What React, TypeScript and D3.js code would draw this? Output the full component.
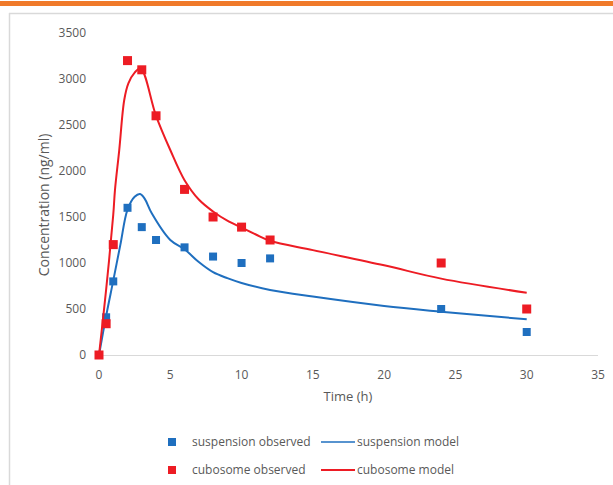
import React from 'react'
import * as d3 from 'd3'

// observed sampling times (h)
const obsTimes = [0, 0.5, 1, 2, 3, 4, 6, 8, 10, 12, 24, 30]
const suspensionObserved = [0, 410, 800, 1600, 1390, 1250, 1170, 1070, 1000, 1050, 500, 250]
const cubosomeObserved = [0, 340, 1200, 3200, 3100, 2600, 1800, 1500, 1390, 1250, 1000, 500]

// model curves
const suspensionModelT = [0, 0.5, 1, 1.5, 2, 2.5, 2.88, 3.2, 3.7, 5, 6, 7, 8, 9, 10, 12, 15, 20, 24, 30]
const suspensionModelC = [0, 424, 808, 1200, 1580, 1720, 1750, 1700, 1540, 1250, 1150, 1010, 900, 835, 783, 707, 635, 533, 471, 388]
const cubosomeModelT = [0, 0.5, 1, 1.12, 1.42, 1.77, 2.06, 2.5, 2.92, 4, 5, 6, 7, 8, 9, 10, 11, 12, 15, 20, 24, 30]
const cubosomeModelC = [0, 710, 1525, 1793, 2228, 2772, 2953, 3070, 3116, 2600, 2228, 1900, 1690, 1560, 1460, 1385, 1310, 1242, 1140, 975, 830, 677]

const xTicks = [0, 5, 10, 15, 20, 25, 30, 35]
const yTicks = [0, 500, 1000, 1500, 2000, 2500, 3000, 3500]

const BLUE = '#1f6fbf'
const RED = '#ed1c24'
const TEXT = '#595959'
const FONT = '"Open Sans", Lato, sans-serif'

export default function App() {
  const x = d3.scaleLinear().domain([0, 35]).range([99, 598])
  const y = d3.scaleLinear().domain([0, 3500]).range([355, 33])

  const line = d3.line<[number, number]>()
    .x(d => x(d[0]))
    .y(d => y(d[1]))
    .curve(d3.curveCatmullRom.alpha(0.5))

  const suspPath = line(suspensionModelT.map((t, i) => [t, suspensionModelC[i]] as [number, number])) || ''
  const cuboPath = line(cubosomeModelT.map((t, i) => [t, cubosomeModelC[i]] as [number, number])) || ''

  const sq = 8

  return (
    <svg width={613} height={485} style={{ position: 'absolute', left: 0, top: 0 }} fontFamily={FONT}>
      <rect x={0} y={0} width={613} height={485} fill="#fff" />
      {/* top banner */}
      <rect x={0} y={1} width={613} height={5} fill="#f07a2a" />
      {/* chart frame */}
      <line x1={9.5} y1={13} x2={9.5} y2={485} stroke="#d9d9d9" strokeWidth={1.5} />
      <line x1={9} y1={13.5} x2={613} y2={13.5} stroke="#d9d9d9" strokeWidth={1.5} />

      {/* x axis */}
      <line x1={x(0)} y1={y(0) + 0.5} x2={x(35)} y2={y(0) + 0.5} stroke="#d9d9d9" strokeWidth={1} />
      {xTicks.map(t => (
        <text key={t} x={x(t)} y={379} textAnchor="middle" fontSize={12} fill={TEXT}>{t}</text>
      ))}
      {yTicks.map(t => (
        <text key={t} x={86} y={y(t) + 4} textAnchor="end" fontSize={12} fill={TEXT}>{t}</text>
      ))}

      <text x={348} y={401} textAnchor="middle" fontSize={13} fill={TEXT}>Time (h)</text>
      <text transform="translate(49,205) rotate(-90)" textAnchor="middle" fontSize={14} fill={TEXT}>Concentration (ng/ml)</text>

      {/* suspension */}
      <path d={suspPath} fill="none" stroke={BLUE} strokeWidth={2} />
      {obsTimes.map((t, i) => (
        <rect key={'s' + i} x={x(t) - sq / 2} y={y(suspensionObserved[i]) - sq / 2} width={sq} height={sq} fill={BLUE} />
      ))}

      {/* cubosome */}
      <path d={cuboPath} fill="none" stroke={RED} strokeWidth={2} />
      {obsTimes.map((t, i) => (
        <rect key={'c' + i} x={x(t) - sq / 2 - 0.5} y={y(cubosomeObserved[i]) - sq / 2 - 0.5} width={sq + 1} height={sq + 1} fill={RED} />
      ))}

      {/* legend */}
      <rect x={168} y={438} width={8} height={8} fill={BLUE} />
      <text x={192} y={446} fontSize={12} fill={TEXT}>suspension observed</text>
      <line x1={321} y1={442} x2={355} y2={442} stroke={BLUE} strokeWidth={1.5} />
      <text x={357} y={446} fontSize={12} fill={TEXT}>suspension model</text>

      <rect x={168} y={466} width={8} height={8} fill={RED} />
      <text x={192} y={474} fontSize={12} fill={TEXT}>cubosome observed</text>
      <line x1={321} y1={470} x2={355} y2={470} stroke={RED} strokeWidth={2} />
      <text x={357} y={474} fontSize={12} fill={TEXT}>cubosome model</text>
    </svg>
  )
}
